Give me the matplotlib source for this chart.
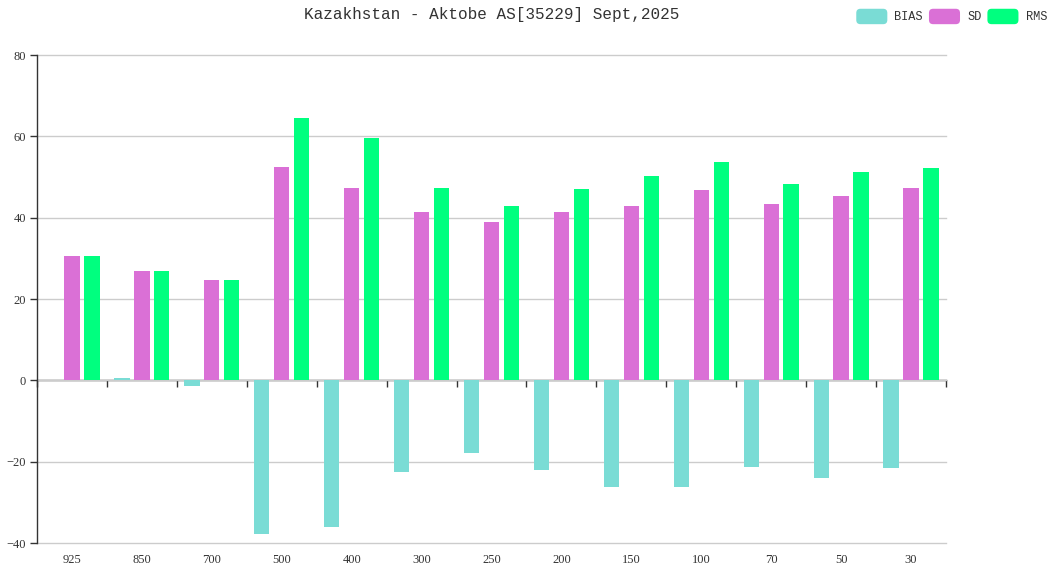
import matplotlib
matplotlib.use("Agg")
import matplotlib.pyplot as plt
import numpy as np
from matplotlib.patches import FancyBboxPatch
from matplotlib.legend_handler import HandlerPatch

categories = ["925", "850", "700", "500", "400", "300", "250", "200", "150", "100", "70", "50", "30"]
bias = [0.1, 0.5, -1.5, -37.7, -36.1, -22.6, -17.9, -22.1, -26.3, -26.3, -21.4, -23.9, -21.5]
sd = [30.5, 27.0, 24.6, 52.4, 47.2, 41.3, 38.9, 41.5, 42.9, 46.8, 43.3, 45.3, 47.3]
rms = [30.5, 27.0, 24.6, 64.5, 59.6, 47.2, 42.8, 47.0, 50.2, 53.8, 48.3, 51.2, 52.1]
series_names = ["BIAS", "SD", "RMS"]
colors = ["#7adcd5", "#da70d6", "#00ff7f"]
title = "Kazakhstan - Aktobe AS[35229] Sept,2025"

FONT = ["Liberation Serif", "DejaVu Serif"]
MONO = ["Liberation Mono", "DejaVu Sans Mono"]
plt.rcParams["font.family"] = FONT

fig = plt.figure(figsize=(10.55, 5.67), dpi=100)
ax = fig.add_axes([37 / 1055, 24 / 567, 909 / 1055, 488 / 567])

n = len(categories)
x = np.arange(n)
bw = 0.219
step = 0.285
for i, (vals, c, name) in enumerate(zip([bias, sd, rms], colors, series_names)):
    ax.bar(x + (i - 1) * step, vals, width=bw, color=c, label=name, zorder=3)

ax.set_xlim(-0.5, n - 0.5)
ax.set_ylim(-40, 80)
ax.set_yticks([-40, -20, 0, 20, 40, 60, 80])
ax.grid(axis="y", color="#cccccc", linewidth=1, zorder=0)
for gl in ax.get_ygridlines():
    gl.set_clip_on(False)
ax.tick_params(axis="y", length=5, width=1, color="#333333", labelcolor="#333333",
               labelsize=9, pad=3)

for s in ["top", "right", "bottom"]:
    ax.spines[s].set_visible(False)
ax.spines["left"].set_color("#333333")
ax.spines["left"].set_linewidth(1)

ax.set_xticks(x)
ax.set_xticklabels(categories)
ax.tick_params(axis="x", length=0, labelcolor="#333333", labelsize=9, pad=8)

# x axis line at zero with ticks on category boundaries
sec = ax.secondary_xaxis(40 / 120)
sec.set_xticks(np.arange(n + 1) - 0.5)
sec.tick_params(axis="x", length=5, width=1, color="#333333", labelbottom=False,
                direction="out")
sec.spines["bottom"].set_color("#333333")
sec.spines["bottom"].set_linewidth(1)
sec.spines["top"].set_visible(False)

fig.text((37 + 946) / 2 / 1055, 1 - 14 / 567, title, ha="center", va="center",
         fontsize=11.5, color="#333333", family=MONO)


class HandlerRound(HandlerPatch):
    def create_artists(self, legend, orig_handle, xdescent, ydescent, width, height, fontsize, trans):
        h = fontsize * 1.29
        y0 = -ydescent + (height - h) / 2
        p = FancyBboxPatch((-xdescent, y0), width, h,
                           boxstyle="round,pad=0,rounding_size=3",
                           facecolor=orig_handle.get_facecolor(), edgecolor="none",
                           transform=trans)
        return [p]


handles, labels = ax.get_legend_handles_labels()
handles = [h.patches[0] for h in handles]
leg = fig.legend(handles, labels, loc="upper right",
                 bbox_to_anchor=(1047 / 1055, 1 - 10 / 567), ncol=3,
                 frameon=False, prop={"family": MONO, "size": 8.6},
                 handlelength=2.6, handleheight=1.29, borderpad=0, borderaxespad=0,
                 handletextpad=0.6, columnspacing=0.5, labelcolor="#333333",
                 handler_map={type(handles[0]): HandlerRound()})

fig.savefig("out.png", dpi=100)
